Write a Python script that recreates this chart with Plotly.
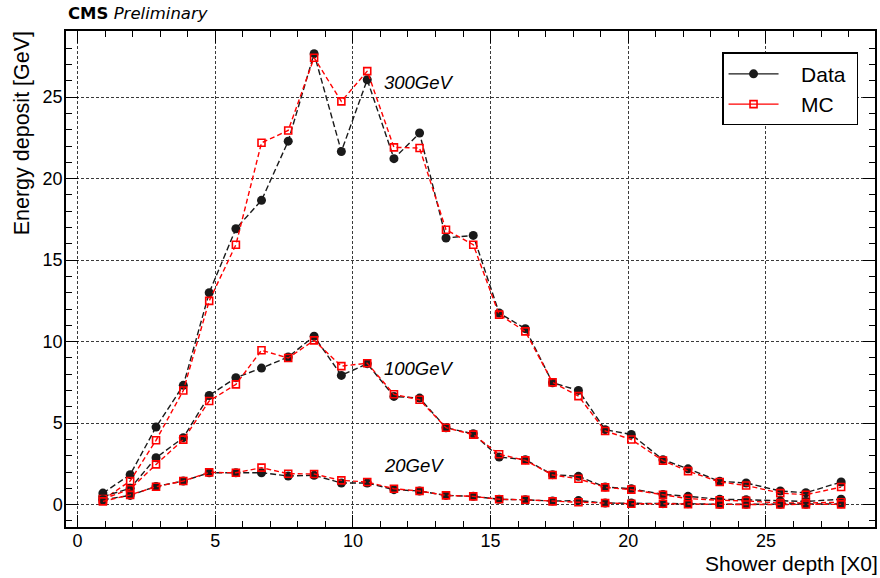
import plotly.graph_objects as go

# Shower depth of each sampling layer [X0]
depth = [0.92, 1.91, 2.85, 3.84, 4.78, 5.75, 6.68, 7.65, 8.59, 9.58, 10.52, 11.49,
         12.42, 13.38, 14.37, 15.31, 16.26, 17.25, 18.19, 19.16, 20.11, 21.26,
         22.17, 23.32, 24.28, 25.52, 26.45, 27.73]

# Mean energy deposit per layer [GeV]
data_300 = [0.71, 1.84, 4.76, 7.32, 13.0, 16.93, 18.67, 22.3, 27.67, 21.67, 26.07, 21.23,
            22.8, 16.36, 16.52, 11.76, 10.8, 7.48, 7.01, 4.6, 4.31, 2.76,
            2.2, 1.43, 1.33, 0.84, 0.73, 1.39]
mc_300 = [0.3, 1.45, 3.95, 7.0, 12.5, 15.95, 22.2, 22.96, 27.42, 24.74, 26.6, 21.92,
          21.88, 16.87, 15.95, 11.66, 10.63, 7.5, 6.66, 4.52, 4.0, 2.7,
          2.06, 1.39, 1.18, 0.71, 0.61, 1.08]
data_100 = [0.5, 1.0, 2.88, 4.11, 6.7, 7.79, 8.38, 9.06, 10.33, 7.93, 8.65, 6.64,
            6.54, 4.72, 4.35, 2.92, 2.76, 1.84, 1.74, 1.08, 0.98, 0.63,
            0.51, 0.33, 0.3, 0.22, 0.2, 0.33]
mc_100 = [0.35, 0.95, 2.47, 3.99, 6.36, 7.38, 9.47, 9.0, 10.08, 8.5, 8.68, 6.77,
          6.44, 4.72, 4.3, 3.09, 2.72, 1.82, 1.59, 1.06, 0.92, 0.61,
          0.37, 0.27, 0.23, 0.1, 0.1, 0.15]
data_20 = [0.3, 0.57, 1.12, 1.45, 1.96, 1.96, 1.96, 1.76, 1.8, 1.33, 1.33, 0.92,
           0.84, 0.57, 0.51, 0.33, 0.3, 0.22, 0.25, 0.1, 0.1, 0.06,
           0.06, 0.02, 0.02, 0.02, 0.02, 0.05]
mc_20 = [0.2, 0.6, 1.1, 1.45, 1.98, 1.96, 2.27, 1.9, 1.88, 1.49, 1.39, 0.98,
         0.84, 0.57, 0.51, 0.33, 0.3, 0.2, 0.15, 0.1, 0.06, 0.06,
         0.03, 0.02, 0.01, 0.01, 0.01, 0.02]

energies = ["300GeV", "100GeV", "20GeV"]
label_y = [25.93, 8.34, 2.41]
label_x = 11.05

FONT = "Liberation Sans, Arial, Helvetica, sans-serif"
DATA_COLOR = "#1a1a1a"
MC_COLOR = "#ff0000"
PAD = "\u00a0" * 3

fig = go.Figure()

series = [(data_300, mc_300), (data_100, mc_100), (data_20, mc_20)]
for d, m in series:
    fig.add_trace(go.Scatter(
        x=depth, y=d, mode="lines+markers", showlegend=False,
        line=dict(color=DATA_COLOR, width=1.4, dash="6px,3px"),
        marker=dict(symbol="circle", size=9, color=DATA_COLOR),
    ))
    fig.add_trace(go.Scatter(
        x=depth, y=m, mode="lines+markers", showlegend=False,
        line=dict(color=MC_COLOR, width=1.4, dash="5px,3px"),
        marker=dict(symbol="square-open", size=7, color=MC_COLOR,
                    line=dict(color=MC_COLOR, width=1.6)),
    ))

# legend entries with solid line samples
fig.add_trace(go.Scatter(
    x=[None], y=[None], mode="lines+markers", name=PAD + "Data\u00a0",
    line=dict(color=DATA_COLOR, width=1.4),
    marker=dict(symbol="circle", size=9, color=DATA_COLOR),
))
fig.add_trace(go.Scatter(
    x=[None], y=[None], mode="lines+markers", name=PAD + "MC",
    line=dict(color=MC_COLOR, width=1.4),
    marker=dict(symbol="square-open", size=7, color=MC_COLOR,
                line=dict(color=MC_COLOR, width=1.6)),
))

for name, yy in zip(energies, label_y):
    fig.add_annotation(x=label_x, y=yy, text=name, showarrow=False,
                       xanchor="left", yanchor="middle",
                       font=dict(family=FONT, size=18.5, color="black", style="italic"))

# header
fig.add_annotation(xref="paper", yref="paper", x=0.0, y=1.0, yshift=6,
                   xanchor="left", yanchor="bottom", showarrow=False,
                   text="<b>CMS</b> <i>Preliminary</i>",
                   font=dict(family="DejaVu Sans, sans-serif", size=16.5, color="black"))

# axis titles, aligned to the axis ends
fig.add_annotation(xref="paper", yref="paper", x=1.0, y=-0.073, xshift=5,
                   xanchor="right", yanchor="middle", showarrow=False,
                   text="Shower depth [X0]",
                   font=dict(family=FONT, size=21, color="black"))
fig.add_annotation(xref="paper", yref="paper", x=-0.054, y=1.0, yshift=2,
                   xanchor="center", yanchor="top", showarrow=False,
                   textangle=-90, text="Energy deposit [GeV]",
                   font=dict(family=FONT, size=21.5, color="black"))

axis_common = dict(
    showline=True, linecolor="black", linewidth=1.5, mirror="allticks",
    ticks="inside", ticklen=12, tickwidth=1, tickcolor="black",
    showgrid=True, gridcolor="#3a3a3a", gridwidth=1, griddash="3px,2px",
    zeroline=False,
    tickfont=dict(family=FONT, size=18, color="black"),
    dtick=5, tick0=0,
    minor=dict(ticks="inside", ticklen=6, tickwidth=1, tickcolor="black",
               dtick=1, showgrid=False),
)

fig.update_xaxes(range=[-0.42, 28.96], ticklabelstandoff=-3, **axis_common)
fig.update_yaxes(range=[-1.37, 29.06], ticklabelstandoff=-2, **axis_common)

fig.update_layout(
    width=880, height=578,
    margin=dict(l=66, r=3, t=31, b=51),
    paper_bgcolor="white", plot_bgcolor="white",
    font=dict(family=FONT, color="black"),
    legend=dict(
        x=0.8113, y=0.9567, xanchor="left", yanchor="top",
        bgcolor="white", bordercolor="black", borderwidth=1.2,
        font=dict(family=FONT, size=21, color="black"),
        itemwidth=50,
    ),
)

fig.write_html("out.html")
